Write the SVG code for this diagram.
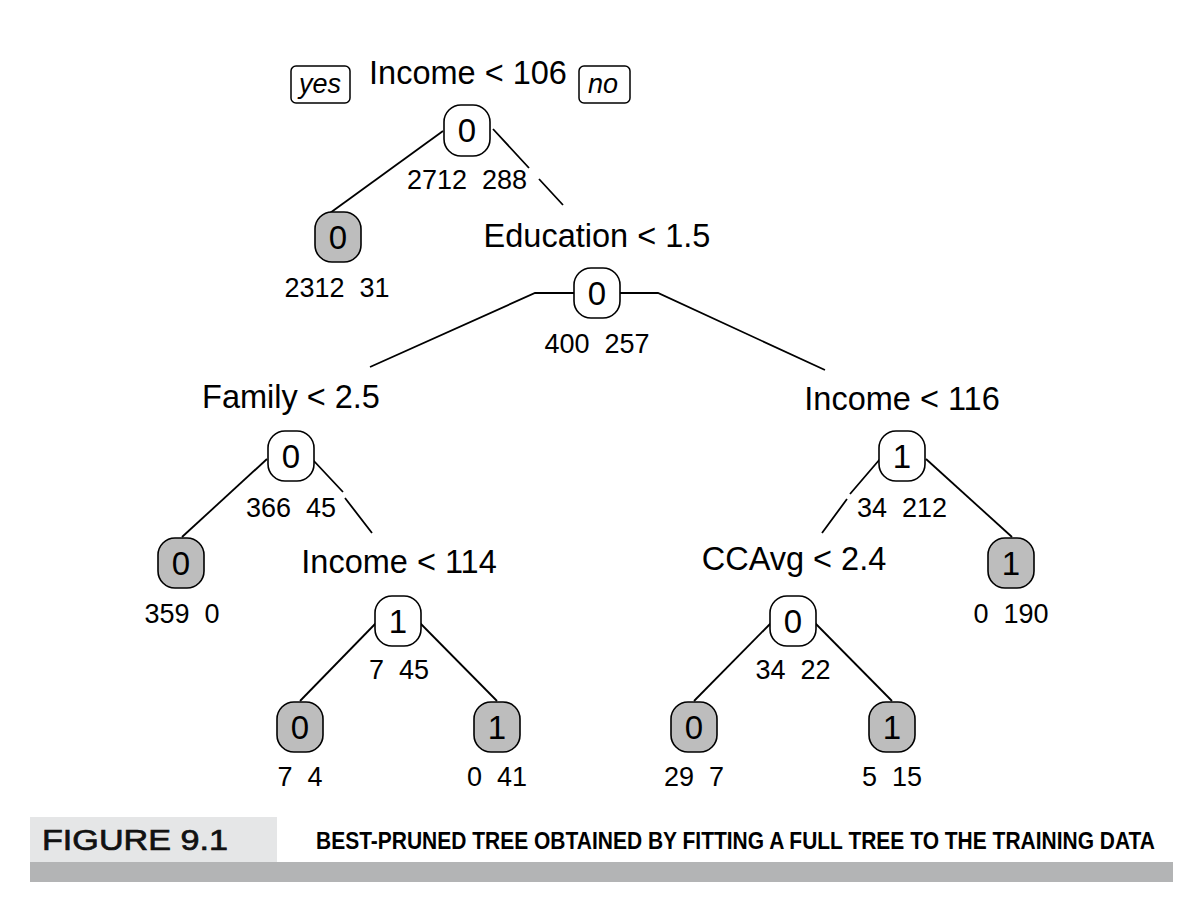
<svg xmlns="http://www.w3.org/2000/svg" width="1203" height="906" viewBox="0 0 1203 906">
<style>
.lbl{font-family:"Liberation Sans",Arial,sans-serif;font-size:32.5px;text-anchor:middle;fill:#000}
.cnt{font-family:"Liberation Sans",Arial,sans-serif;font-size:27px;text-anchor:middle;fill:#000;white-space:pre}
.cls{font-family:"Liberation Sans",Arial,sans-serif;font-size:33px;text-anchor:middle;fill:#000}
.box{fill:#fff;stroke:#000;stroke-width:1.6}
.leaf{fill:#bdbdbd;stroke:#000;stroke-width:1.6}
.tag{fill:#fff;stroke:#000;stroke-width:1.5}
.tagt{font-family:"Liberation Sans",Arial,sans-serif;font-size:27px;font-style:italic;text-anchor:middle}
.edge{fill:none;stroke:#000;stroke-width:1.8}
</style>
<rect width="1203" height="906" fill="#fff"/>
<g id="connectors">
<path class="edge" d="M443,131 L330,213"/>
<path class="edge" d="M493,129 L529,168 M539,179 L563,205"/>
<path class="edge" d="M574,293 L535,293 L370,367"/>
<path class="edge" d="M620,293 L658,293 L825,370"/>
<path class="edge" d="M267,459 L182,537"/>
<path class="edge" d="M313,460 L343,492 M345,498 L372,533"/>
<path class="edge" d="M880,459 L850,494 M847,499 L822,533"/>
<path class="edge" d="M926,459 L1012,537"/>
<path class="edge" d="M376,623 L300,701"/>
<path class="edge" d="M420,623 L497,701"/>
<path class="edge" d="M771,623 L694,701"/>
<path class="edge" d="M815,623 L892,701"/>
</g>
<g id="tag-yes"><rect class="tag" x="291" y="66" width="59" height="37" rx="5"/><text class="tagt" x="320" y="93">yes</text></g>
<g id="tag-no"><rect class="tag" x="579" y="66" width="51" height="37" rx="5"/><text class="tagt" x="603" y="93">no</text></g>
<g id="n-root">
<text class="lbl" x="468" y="84">Income &lt; 106</text>
<rect class="box" x="444" y="105" width="46" height="51" rx="17"/>
<text class="cls" x="467" y="142">0</text>
<text class="cnt" x="467" y="189" xml:space="preserve">2712  288</text>
</g>
<g id="n-leafA">
<rect class="leaf" x="315" y="212" width="46" height="50" rx="17"/>
<text class="cls" x="338" y="249">0</text>
<text class="cnt" x="337" y="297" xml:space="preserve">2312  31</text>
</g>
<g id="n-edu">
<text class="lbl" x="597" y="247">Education &lt; 1.5</text>
<rect class="box" x="574" y="268" width="46" height="50" rx="17"/>
<text class="cls" x="597" y="305">0</text>
<text class="cnt" x="597" y="353" xml:space="preserve">400  257</text>
</g>
<g id="n-family">
<text class="lbl" x="291" y="408">Family &lt; 2.5</text>
<rect class="box" x="268" y="431" width="46" height="50" rx="17"/>
<text class="cls" x="291" y="468">0</text>
<text class="cnt" x="291" y="517" xml:space="preserve">366  45</text>
</g>
<g id="n-inc116">
<text class="lbl" x="902" y="410">Income &lt; 116</text>
<rect class="box" x="879" y="431" width="46" height="50" rx="17"/>
<text class="cls" x="902" y="468">1</text>
<text class="cnt" x="902" y="517" xml:space="preserve">34  212</text>
</g>
<g id="n-leafB">
<rect class="leaf" x="158" y="538" width="46" height="50" rx="17"/>
<text class="cls" x="181" y="575">0</text>
<text class="cnt" x="182" y="623" xml:space="preserve">359  0</text>
</g>
<g id="n-leafC">
<rect class="leaf" x="988" y="538" width="46" height="50" rx="17"/>
<text class="cls" x="1011" y="575">1</text>
<text class="cnt" x="1011" y="623" xml:space="preserve">0  190</text>
</g>
<g id="n-inc114">
<text class="lbl" x="399" y="573">Income &lt; 114</text>
<rect class="box" x="375" y="596" width="46" height="50" rx="17"/>
<text class="cls" x="398" y="633">1</text>
<text class="cnt" x="399" y="679" xml:space="preserve">7  45</text>
</g>
<g id="n-ccavg">
<text class="lbl" x="794" y="570">CCAvg &lt; 2.4</text>
<rect class="box" x="770" y="596" width="46" height="50" rx="17"/>
<text class="cls" x="793" y="633">0</text>
<text class="cnt" x="793" y="679" xml:space="preserve">34  22</text>
</g>
<g id="n-leafD">
<rect class="leaf" x="277" y="702" width="46" height="50" rx="17"/>
<text class="cls" x="300" y="739">0</text>
<text class="cnt" x="300" y="786" xml:space="preserve">7  4</text>
</g>
<g id="n-leafE">
<rect class="leaf" x="474" y="702" width="46" height="50" rx="17"/>
<text class="cls" x="497" y="739">1</text>
<text class="cnt" x="497" y="786" xml:space="preserve">0  41</text>
</g>
<g id="n-leafF">
<rect class="leaf" x="671" y="702" width="46" height="50" rx="17"/>
<text class="cls" x="694" y="739">0</text>
<text class="cnt" x="694" y="786" xml:space="preserve">29  7</text>
</g>
<g id="n-leafG">
<rect class="leaf" x="869" y="702" width="46" height="50" rx="17"/>
<text class="cls" x="892" y="739">1</text>
<text class="cnt" x="892" y="786" xml:space="preserve">5  15</text>
</g>
<g id="caption">
<rect x="30" y="817" width="247" height="45" fill="#e5e6e7"/>
<rect x="30" y="862" width="1143" height="20" fill="#b3b4b5"/>
<text x="42" y="850" font-family="Liberation Sans,Arial,sans-serif" font-size="29" fill="#111" stroke="#111" stroke-width="0.7" textLength="186" lengthAdjust="spacingAndGlyphs">FIGURE 9.1</text>
<text x="316" y="849" font-family="Liberation Sans,Arial,sans-serif" font-size="23" font-weight="bold" fill="#000" textLength="839" lengthAdjust="spacingAndGlyphs">BEST-PRUNED TREE OBTAINED BY FITTING A FULL TREE TO THE TRAINING DATA</text>
</g>
</svg>
